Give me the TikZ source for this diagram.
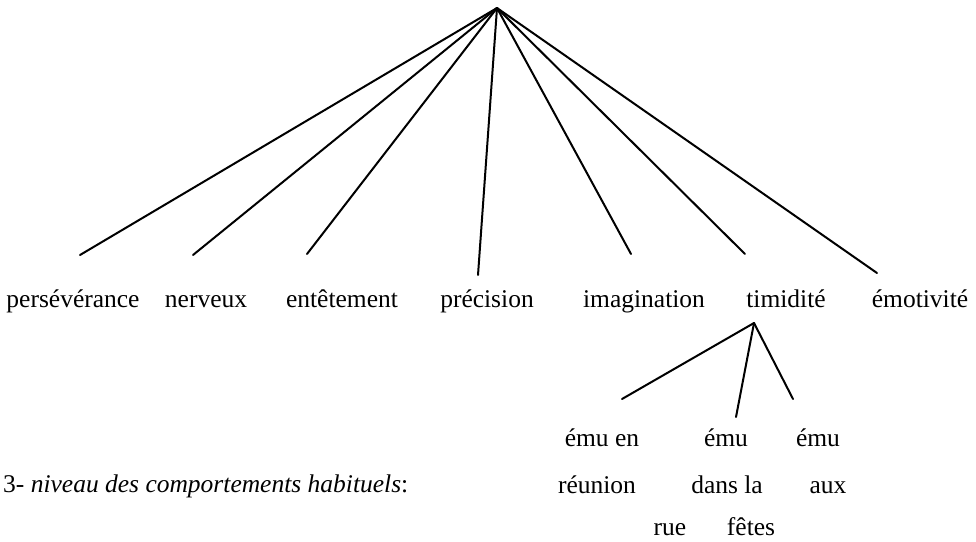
\documentclass[tikz,border=0pt]{standalone}
\usepackage{fontspec}
\setmainfont{Liberation Serif}
\begin{document}
\begin{tikzpicture}[x=1pt,y=-1pt,
  lbl/.style={inner sep=0pt,font=\fontsize{25.5}{28}\selectfont,anchor=base},
  edge/.style={line width=2pt,line cap=round}]
\useasboundingbox (0,0) rectangle (976,541);
% main tree
\coordinate (top) at (497,8);
\coordinate (e1) at (80,255);
\coordinate (e2) at (193,255);
\coordinate (e3) at (307,254);
\coordinate (e4) at (478,275);
\coordinate (e5) at (631,254);
\coordinate (e6) at (745,254);
\coordinate (e7) at (877,273);
\foreach \e in {e1,e2,e3,e4,e5,e6,e7} \draw[edge] (top) -- (\e);
\node[lbl] (l1) at (73,307) {persévérance};
\node[lbl] (l2) at (206,307) {nerveux};
\node[lbl] (l3) at (342,307) {entêtement};
\node[lbl] (l4) at (487,307) {précision};
\node[lbl] (l5) at (644,307) {imagination};
\node[lbl] (l6) at (786,307) {timidité};
\node[lbl] (l7) at (920,307) {émotivité};
% sub tree
\coordinate (s) at (754,323);
\coordinate (f1) at (622,399);
\coordinate (f2) at (736,417);
\coordinate (f3) at (793,399);
\foreach \f in {f1,f2,f3} \draw[edge] (s) -- (\f);
\node[lbl] (a1) at (602,446) {ému en};
\node[lbl] (a2) at (597,493) {réunion};
\node[lbl] (a3) at (670,535) {rue};
\node[lbl] (b1) at (726,446) {ému};
\node[lbl] (b2) at (727,493) {dans la};
\node[lbl] (b3) at (751,535) {fêtes};
\node[lbl] (c1) at (818,446) {ému};
\node[lbl] (c2) at (828,493) {aux};
\node[lbl,anchor=base west] (niv) at (3,492) {3- \textit{niveau des comportements habituels}:};
\end{tikzpicture}
\end{document}
